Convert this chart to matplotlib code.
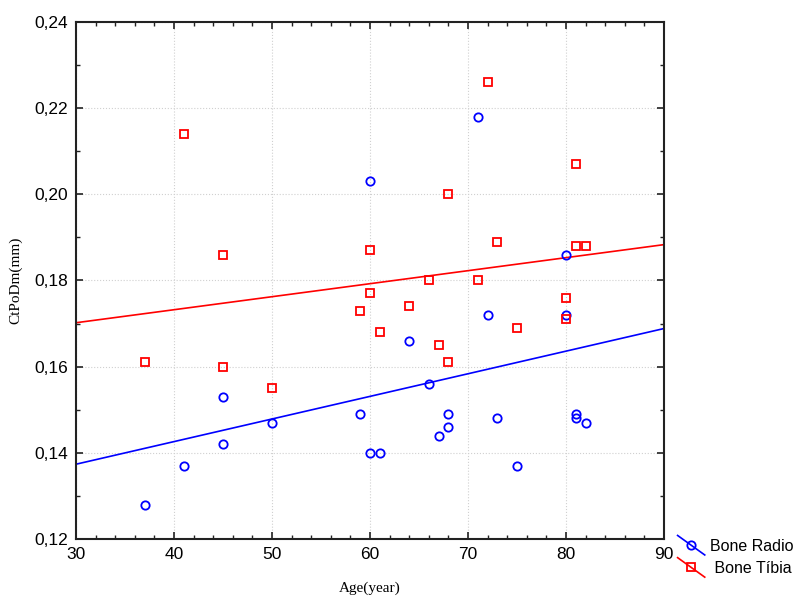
import numpy as np
import matplotlib
matplotlib.use("Agg")
import matplotlib.pyplot as plt
from matplotlib.lines import Line2D
from matplotlib.legend_handler import HandlerLine2D
from matplotlib.ticker import MultipleLocator, FuncFormatter

radio_age = [37, 41, 45, 45, 50, 59, 60, 60, 61, 64, 66, 67, 68, 68, 71, 72, 73, 75, 80, 80, 81, 81, 82]
radio_val = [0.128, 0.137, 0.153, 0.142, 0.147, 0.149, 0.203, 0.140, 0.140, 0.166, 0.156, 0.144,
             0.149, 0.146, 0.218, 0.172, 0.148, 0.137, 0.186, 0.172, 0.149, 0.148, 0.147]
tibia_age = [37, 41, 45, 45, 50, 59, 60, 60, 61, 64, 66, 67, 68, 68, 71, 72, 73, 75, 80, 80, 81, 81, 82]
tibia_val = [0.161, 0.214, 0.186, 0.160, 0.155, 0.173, 0.187, 0.177, 0.168, 0.174, 0.180, 0.165,
             0.200, 0.161, 0.180, 0.226, 0.189, 0.169, 0.176, 0.171, 0.207, 0.188, 0.188]
series_names = ["Bone Radio", "Bone Tíbia"]

fig = plt.figure(figsize=(8, 6), dpi=100)
ax = fig.add_axes([0.095, 0.1017, 0.735, 0.8616])

xs = np.array([30, 90])
cr = np.polyfit(radio_age, radio_val, 1)
ct = np.polyfit(tibia_age, tibia_val, 1)
ax.plot(xs, np.polyval(cr, xs), color="blue", lw=1.2, zorder=2)
ax.plot(xs, np.polyval(ct, xs), color="red", lw=1.2, zorder=2)

ax.plot(radio_age, radio_val, ls="none", marker="o", ms=6, mfc="none", mec="blue", mew=1.3, zorder=3)
ax.plot(tibia_age, tibia_val, ls="none", marker="s", ms=6, mfc="none", mec="red", mew=1.3, zorder=3)

ax.set_xlim(30, 90)
ax.set_ylim(0.12, 0.24)
ax.xaxis.set_major_locator(MultipleLocator(10))
ax.xaxis.set_minor_locator(MultipleLocator(2))
ax.yaxis.set_major_locator(MultipleLocator(0.02))
ax.yaxis.set_minor_locator(MultipleLocator(0.01))
ax.yaxis.set_major_formatter(FuncFormatter(lambda v, p: f"{v:.2f}".replace(".", ",")))
ax.tick_params(which="both", direction="in", top=True, right=True, color="#222222")
ax.tick_params(which="major", length=5, width=1.2, labelsize=12.5, pad=6)
ax.tick_params(which="minor", length=3, width=1)
for lab in ax.get_xticklabels() + ax.get_yticklabels():
    lab.set_family("Liberation Sans")
ax.grid(True, which="major", color="#d0d0d0", ls=":", lw=0.8)
for s in ax.spines.values():
    s.set_linewidth(1.5)
    s.set_color("#222222")

ax.set_xlabel("Age(year)", family="Liberation Serif", fontsize=11, labelpad=14)
ax.set_ylabel("CtPoDm(mm)", family="Liberation Serif", fontsize=11, labelpad=8)


class DiagHandler(HandlerLine2D):
    def create_artists(self, legend, orig_handle, xdescent, ydescent, width, height, fontsize, trans):
        x0, x1 = -xdescent, width - xdescent
        y0, y1 = height - ydescent + 3, -ydescent - 3
        line = Line2D([x0, x1], [y0, y1], color=orig_handle.get_color(), lw=1.2)
        line.set_transform(trans)
        mk = Line2D([(x0 + x1) / 2], [(y0 + y1) / 2], ls="none", marker=orig_handle.get_marker(),
                    ms=6, mfc="none", mec=orig_handle.get_color(), mew=1.3)
        mk.set_transform(trans)
        return [line, mk]


h1 = Line2D([], [], color="blue", marker="o")
h2 = Line2D([], [], color="red", marker="s")
leg = fig.legend([h1, h2], series_names, loc="upper left", bbox_to_anchor=(0.847, 0.102),
                 frameon=False, handler_map={Line2D: DiagHandler()}, handlelength=1.7,
                 handletextpad=0.3, labelspacing=0.45, borderpad=0, borderaxespad=0,
                 prop={"family": "Liberation Sans", "size": 11.5})
texts = leg.get_texts()
texts[1].set_text(" " + series_names[1])

fig.savefig("out.png", dpi=100)
